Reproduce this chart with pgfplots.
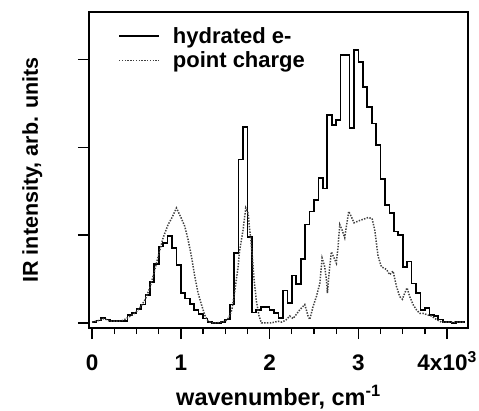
\documentclass[border=0pt]{standalone}
\usepackage{fontspec}
\setmainfont{Liberation Sans}
\usepackage{pgfplots}
\pgfplotsset{compat=1.18}
\begin{document}
\begin{tikzpicture}
\begin{axis}[
  name=ax,
  scale only axis,
  width=379pt, height=316pt,
  xmin=-35, xmax=4235,
  ymin=-0.057, ymax=3.54,
  axis line style={line width=1.3pt},
  tick align=outside,
  tick pos=left,
  xtick={0,1000,2000,3000,4000},
  xticklabels={0,1,2,3,4x10\textsuperscript{3}},
  minor x tick num=3,
  ytick={0,1,2,3},
  yticklabels={},
  major tick length=11pt,
  minor tick length=6pt,
  every tick/.style={line width=1.3pt, black},
  ticklabel style={font=\bfseries\fontsize{22.5}{26}\selectfont},
  xticklabel style={anchor=base, yshift=-31pt},
  xlabel={wavenumber, cm\textsuperscript{-1}},
  ylabel={IR intensity, arb. units},
  xlabel style={font=\bfseries\fontsize{23.5}{28}\selectfont, at={(axis description cs:0.5,-0.246)}, anchor=base},
  ylabel style={font=\bfseries\fontsize{21.5}{26}\selectfont, at={(axis description cs:-0.1346,0.5)}, anchor=base},
  legend style={at={(axis description cs:0.0765,0.952)}, anchor=north west, draw=none, fill=none,
    font=\bfseries\fontsize{22}{26}\selectfont, row sep=7pt, column sep=0pt, inner sep=0pt,
    nodes={inner xsep=0pt, inner ysep=0pt}},
  legend cell align=left,
  legend image code/.code={\draw[#1] (0pt,0pt) -- (40pt,0pt); \path (53pt,0pt);},
]
\addplot[const plot, black, line width=1.7pt] coordinates {
(0,0.01) (50,0.03) (100,0.06) (150,0.04) (200,0.02) (250,0.02) (300,0.02) (350,0.02)
(400,0.09) (450,0.11) (500,0.16) (550,0.21) (600,0.32) (650,0.47) (700,0.67) (750,0.87)
(800,0.91) (850,0.99) (900,0.85) (950,0.66) (1000,0.34) (1050,0.28) (1100,0.22) (1150,0.15)
(1200,0.10) (1250,0.05) (1300,0.01) (1350,0.00) (1400,0.00) (1450,0.01) (1500,0.04) (1550,0.21)
(1600,0.80) (1650,1.86) (1700,2.23) (1750,0.98) (1800,0.12) (1850,0.15) (1900,0.18) (1950,0.18)
(2000,0.15) (2050,0.11) (2100,0.06) (2150,0.37) (2200,0.23) (2250,0.54) (2300,0.44) (2350,0.73)
(2400,1.12) (2450,1.27) (2500,1.40) (2550,1.65) (2600,1.53) (2650,2.37) (2700,2.25) (2750,2.31)
(2800,3.05) (2850,3.05) (2900,2.22) (2950,3.11) (3000,2.97) (3050,2.69) (3100,2.46) (3150,2.27)
(3200,2.03) (3250,1.64) (3300,1.34) (3350,1.25) (3400,1.04) (3450,1.00) (3500,0.64) (3550,0.70)
(3600,0.45) (3650,0.34) (3700,0.15) (3750,0.17) (3800,0.09) (3850,0.08) (3900,0.04) (3950,0.01)
(4000,0.01) (4050,0.00) (4100,0.01) (4150,0.01) (4200,0.01)
};
\addlegendentry{hydrated e-}
\addplot[black!75, line width=1.5pt, dash pattern=on 1.4pt off 1.4pt] coordinates {
(0,0.01) (40,0.02) (80,0.03) (120,0.05) (160,0.04) (200,0.02) (250,0.02) (300,0.02)
(350,0.03) (400,0.06) (450,0.09) (500,0.13) (550,0.19) (600,0.27) (650,0.40) (700,0.58)
(750,0.78) (800,0.97) (856,1.12) (900,1.20) (950,1.31) (1006,1.19) (1044,1.10) (1081,0.95)
(1119,0.76) (1157,0.53) (1194,0.34) (1232,0.21) (1269,0.09) (1307,0.02) (1350,0.00) (1400,0.00)
(1450,0.01) (1500,0.02) (1540,0.06) (1575,0.15) (1607,0.36) (1640,0.60) (1663,0.83) (1701,1.06)
(1731,1.31) (1757,1.25) (1776,1.06) (1802,0.80) (1825,0.49) (1851,0.25) (1881,0.08) (1908,0.00)
(1960,0.00) (2010,0.00) (2058,0.01) (2095,0.02) (2133,0.01) (2180,0.03) (2227,0.08) (2264,0.05)
(2302,0.10) (2339,0.15) (2396,0.21) (2433,0.08) (2452,0.04) (2490,0.19) (2527,0.30) (2565,0.45)
(2591,0.74) (2621,0.64) (2640,0.49) (2651,0.34) (2677,0.64) (2696,0.81) (2726,0.74) (2752,0.68)
(2771,0.87) (2790,1.12) (2816,1.06) (2846,0.97) (2865,1.10) (2891,1.27) (2921,1.21) (2951,1.14)
(2997,1.16) (3053,1.18) (3109,1.20) (3154,1.19) (3184,1.06) (3203,0.91) (3222,0.76) (3259,0.64)
(3316,0.61) (3353,0.55) (3391,0.59) (3428,0.42) (3466,0.30) (3496,0.27) (3522,0.34) (3548,0.40)
(3579,0.30) (3616,0.21) (3654,0.15) (3691,0.11) (3729,0.11) (3785,0.09) (3823,0.08) (3879,0.04)
(3935,0.01) (4000,0.01) (4100,0.01) (4200,0.01)
};
\addlegendentry{point charge}
\end{axis}
\pgfresetboundingbox
\path[use as bounding box] (ax.south west) ++(-89pt,-82pt) rectangle ++(479pt,410pt);
\end{tikzpicture}
\end{document}
